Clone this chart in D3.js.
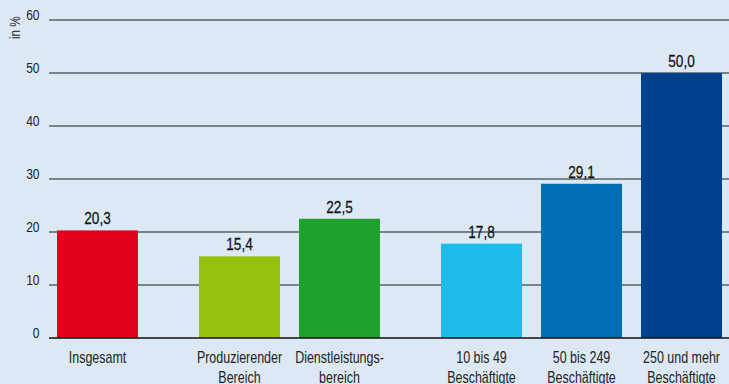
<!DOCTYPE html>
<html>
<head>
<meta charset="utf-8">
<script src="https://cdn.jsdelivr.net/npm/d3@7"></script>
<style>
  html, body { margin: 0; padding: 0; background: #dce9f5; }
  svg { display: block; font-family: "Liberation Sans", Arial, sans-serif; }
</style>
</head>
<body>
<svg id="chart" width="729" height="384"></svg>
<script>
// Share of companies, in %
const categories = [
  ["Insgesamt"],
  ["Produzierender", "Bereich"],
  ["Dienstleistungs-", "bereich"],
  ["10 bis 49", "Beschäftigte"],
  ["50 bis 249", "Beschäftigte"],
  ["250 und mehr", "Beschäftigte"]
];
const values = [20.3, 15.4, 22.5, 17.8, 29.1, 50.0];
const groups = [0, 1, 1, 2, 2, 2];
const colors = ["#e2001a", "#97bf0d", "#1fa12e", "#1cbde9", "#006eb3", "#00418e"];
const yTicks = [0, 10, 20, 30, 40, 50, 60];
const yLabel = "in %";

const svg = d3.select("#chart");
const W = 729, H = 384;
const margin = { left: 49, right: 0, top: 20, bottom: 46 };
const groupGap = 42;

const y = d3.scaleLinear().domain([0, 60]).range([H - margin.bottom, margin.top]);

const x = d3.scaleBand()
  .domain(d3.range(values.length))
  .range([57, 57 + 581])
  .paddingInner(0.19)
  .paddingOuter(0);

const xPos = i => x(i) + groups[i] * groupGap;

// places a horizontally condensed label at (px, py)
function label(parent, px, py, txt, size, sx, anchor, fill) {
  return parent.append("text")
    .attr("transform", `translate(${px},${py}) scale(${sx},1)`)
    .attr("text-anchor", anchor)
    .attr("font-size", size)
    .attr("fill", fill)
    .text(txt);
}

// grid lines
svg.append("g")
  .selectAll("line")
  .data(yTicks.filter(t => t > 0))
  .join("line")
  .attr("x1", margin.left).attr("x2", W)
  .attr("y1", d => y(d)).attr("y2", d => y(d))
  .attr("stroke", "#5a5f66").attr("stroke-width", 1.3);

// y tick labels
const gTicks = svg.append("g");
yTicks.forEach(t => label(gTicks, 39.5, y(t) - 0.5, t, 15, 0.8, "end", "#222"));

svg.append("text")
  .attr("transform", `translate(20, 39) rotate(-90) scale(0.78,1)`)
  .attr("font-size", 15)
  .attr("fill", "#222")
  .text(yLabel);

// bars
svg.append("g")
  .selectAll("rect")
  .data(values)
  .join("rect")
  .attr("x", (d, i) => xPos(i))
  .attr("y", d => y(d))
  .attr("width", x.bandwidth())
  .attr("height", d => y(0) - y(d))
  .attr("fill", (d, i) => colors[i]);

// value labels
const gVals = svg.append("g");
values.forEach((v, i) =>
  label(gVals, xPos(i) + x.bandwidth() / 2, y(v) - 6,
        d3.format(".1f")(v).replace(".", ","), 17, 0.8, "middle", "#111")
    .attr("stroke", "#111").attr("stroke-width", 0.25));

// baseline
svg.append("line")
  .attr("x1", margin.left).attr("x2", W)
  .attr("y1", y(0)).attr("y2", y(0))
  .attr("stroke", "#111").attr("stroke-width", 1.5);

// category labels
const gCats = svg.append("g");
categories.forEach((lines, i) => {
  lines.forEach((ln, k) =>
    label(gCats, xPos(i) + x.bandwidth() / 2, y(0) + 25 + k * 19.5, ln, 16, 0.78, "middle", "#222"));
});
</script>
</body>
</html>
